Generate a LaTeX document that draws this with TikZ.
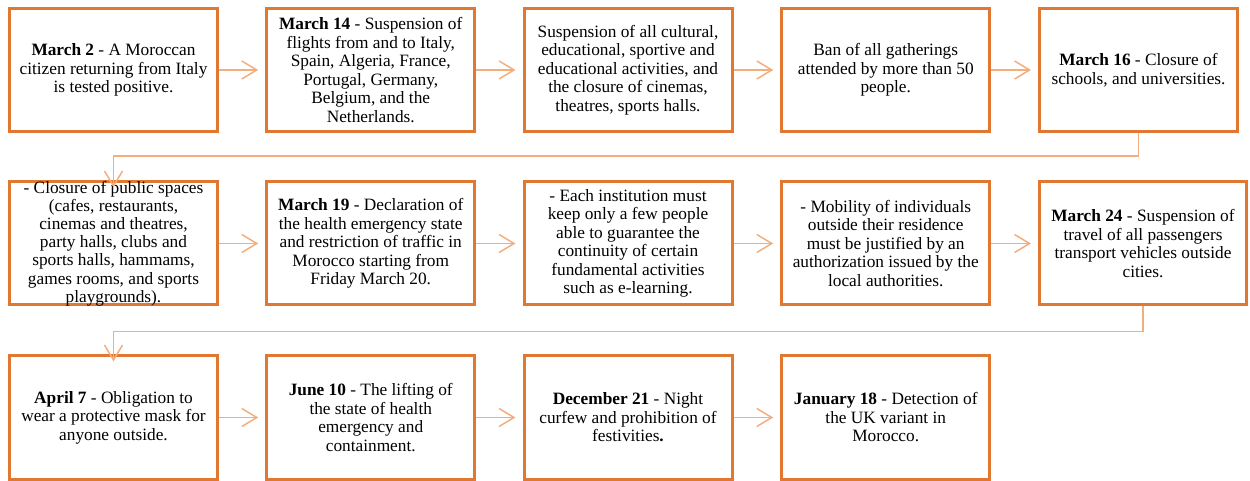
\documentclass[tikz,border=0pt]{standalone}
\usepackage{fontspec}
\setmainfont{Liberation Serif}
\usetikzlibrary{arrows.meta}
\definecolor{boxc}{HTML}{E07832}
\definecolor{linec}{HTML}{F4AE7E}
\begin{document}
\begin{tikzpicture}[x=1bp,y=-1bp,
  txt/.style={align=center, inner sep=0pt, font=\fontsize{17.3bp}{18.5bp}\selectfont},
  evt/.style={txt, draw=boxc, line width=3bp, fill=white, minimum width=208bp, minimum height=123bp},
  conn/.style={draw=linec, line width=1.5bp, -{Straight Barb[length=15bp,width=18bp,line width=1.5bp]}}]
\useasboundingbox (0,0) rectangle (1250,481);
% Row 1
\node[evt] (a1) at (113.5,70) {\textbf{March 2} - A Moroccan\\citizen returning from Italy\\is tested positive.};
\node[evt] (a2) at (370.75,70) {\textbf{March 14} - Suspension of\\flights from and to Italy,\\Spain, Algeria, France,\\Portugal, Germany,\\Belgium, and the\\Netherlands.};
\node[evt] (a3) at (628,70) {Suspension of all cultural,\\educational, sportive and\\educational activities, and\\the closure of cinemas,\\theatres, sports halls.};
\node[evt] (a4) at (885.75,70) {Ban of all gatherings\\attended by more than 50\\people.};
\node[evt, minimum width=198bp] (a5) at (1138.5,70) {\textbf{March 16} - Closure of\\schools, and universities.};
% Row 2
\node[evt] (b1) at (113.5,243.5) {};
\node[txt, font=\fontsize{17.3bp}{18.2bp}\selectfont] (b1t) at (b1.center) {- Closure of public spaces\\(cafes, restaurants,\\cinemas and theatres,\\party halls, clubs and\\sports halls, hammams,\\games rooms, and sports\\playgrounds).};
\node[evt] (b2) at (370.75,243.5) {\textbf{March 19} - Declaration of\\the health emergency state\\and restriction of traffic in\\Morocco starting from\\Friday March 20.};
\node[evt] (b3) at (628,243.5) {- Each institution must\\keep only a few people\\able to guarantee the\\continuity of certain\\fundamental activities\\such as e-learning.};
\node[evt] (b4) at (885.75,243.5) {- Mobility of individuals\\outside their residence\\must be justified by an\\authorization issued by the\\local authorities.};
\node[evt, minimum width=207bp] (b5) at (1143,243.5) {\textbf{March 24} - Suspension of\\travel of all passengers\\transport vehicles outside\\cities.};
% Row 3
\node[evt] (c1) at (113.5,417.5) {\textbf{April 7} - Obligation to\\wear a protective mask for\\anyone outside.};
\node[evt] (c2) at (370.75,417.5) {\textbf{June 10} - The lifting of\\the state of health\\emergency and\\containment.};
\node[evt] (c3) at (628,417.5) {\textbf{December 21} - Night\\curfew and prohibition of\\festivities\textbf{.}};
\node[evt] (c4) at (885.75,417.5) {\textbf{January 18} - Detection of\\the UK variant in\\Morocco.};
% Connectors
\draw[conn] (a1.east) -- ([xshift=-7bp]a2.west);
\draw[conn] (a2.east) -- ([xshift=-7bp]a3.west);
\draw[conn] (a3.east) -- ([xshift=-7bp]a4.west);
\draw[conn] (a4.east) -- ([xshift=-7bp]a5.west);
\draw[conn] (a5.south) -- ++(0,23) -| ([yshift=-7bp]b1.north);
\draw[conn] (b1.east) -- ([xshift=-7bp]b2.west);
\draw[conn] (b2.east) -- ([xshift=-7bp]b3.west);
\draw[conn] (b3.east) -- ([xshift=-7bp]b4.west);
\draw[conn] (b4.east) -- ([xshift=-7bp]b5.west);
\draw[conn] (b5.south) -- ++(0,25) -| ([yshift=-7bp]c1.north);
\draw[conn] (c1.east) -- ([xshift=-7bp]c2.west);
\draw[conn] (c2.east) -- ([xshift=-7bp]c3.west);
\draw[conn] (c3.east) -- ([xshift=-7bp]c4.west);
\end{tikzpicture}
\end{document}
